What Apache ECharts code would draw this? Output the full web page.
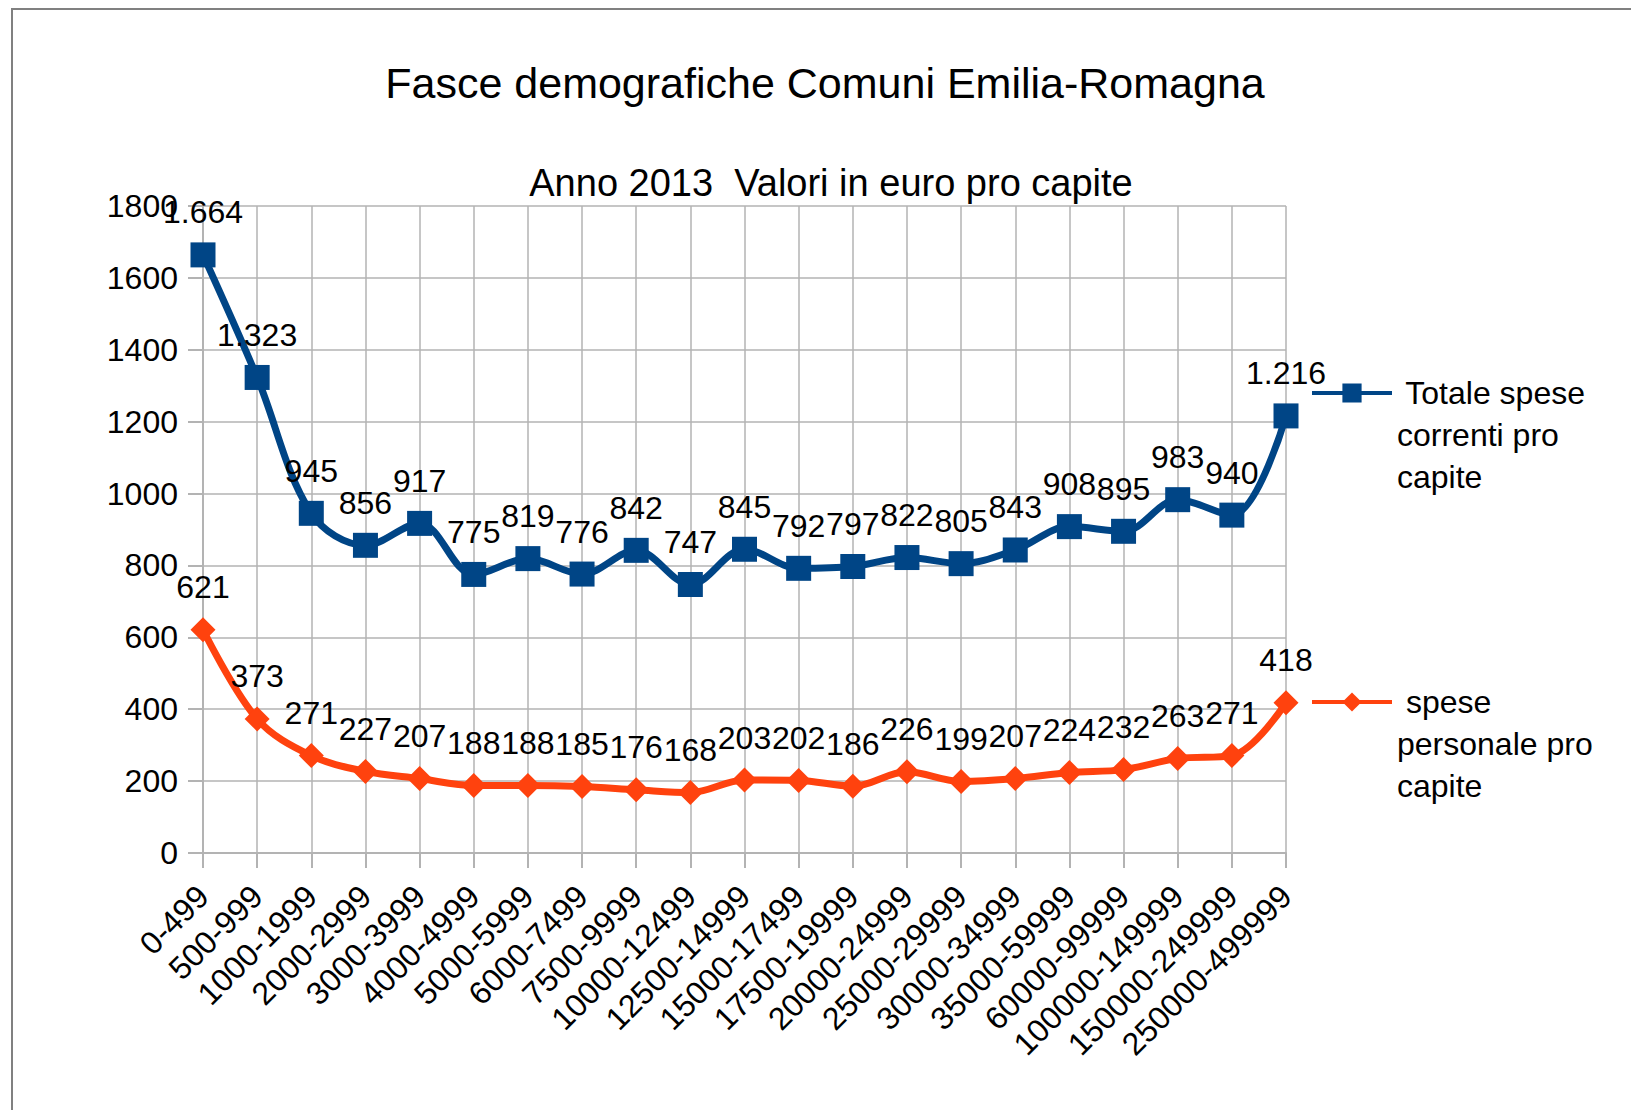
<!DOCTYPE html>
<html>
<head>
<meta charset="utf-8">
<title>Fasce demografiche Comuni Emilia-Romagna</title>
<script src="https://cdn.jsdelivr.net/npm/echarts@6/dist/echarts.min.js"></script>
<style>
  html, body { margin: 0; padding: 0; background: #fff; }
  #chart { width: 1631px; height: 1110px; }
</style>
</head>
<body>
<div id="chart"></div>
<script>
const categories = [
  '0-499', '500-999', '1000-1999', '2000-2999', '3000-3999', '4000-4999',
  '5000-5999', '6000-7499', '7500-9999', '10000-12499', '12500-14999',
  '15000-17499', '17500-19999', '20000-24999', '25000-29999', '30000-34999',
  '35000-59999', '60000-99999', '100000-149999', '150000-249999', '250000-499999'
];
const totaleSpese = [1664, 1323, 945, 856, 917, 775, 819, 776, 842, 747, 845,
  792, 797, 822, 805, 843, 908, 895, 983, 940, 1216];
const spesePersonale = [621, 373, 271, 227, 207, 188, 188, 185, 176, 168, 203,
  202, 186, 226, 199, 207, 224, 232, 263, 271, 418];
const yTicks = { min: 0, max: 1800, step: 200 };

const FONT = 'Liberation Sans';
const GRID = '#b3b3b3';

// numeri all'italiana: 1.664
function fmt(v) {
  return String(v).replace(/\B(?=(\d{3})+(?!\d))/g, '.');
}

const label = {
  show: true,
  position: 'top',
  distance: 14,
  color: '#000',
  fontFamily: FONT,
  fontSize: 32,
  formatter: p => fmt(p.value)
};

const legendText = {
  color: '#000',
  fontFamily: FONT,
  fontSize: 32,
  lineHeight: 42
};

// two blank lines first, so the first real line sits next to the icon
const legendLines = {
  'Totale spese correnti pro capite': [' Totale spese', 'correnti pro', 'capite'],
  'spese personale pro capite': [' spese', 'personale pro', 'capite']
};

const option = {
  animation: false,
  backgroundColor: '#fff',
  title: [
    {
      text: 'Fasce demografiche Comuni Emilia-Romagna',
      left: 825, top: 61, padding: 0,
      textAlign: 'center', textVerticalAlign: 'top',
      textStyle: { fontFamily: FONT, fontSize: 43, fontWeight: 'normal', color: '#000' }
    },
    {
      text: 'Anno 2013  Valori in euro pro capite',
      left: 831, top: 164, padding: 0,
      textAlign: 'center', textVerticalAlign: 'top',
      textStyle: { fontFamily: FONT, fontSize: 38, fontWeight: 'normal', color: '#000' }
    }
  ],
  legend: [
    {
      data: ['Totale spese correnti pro capite'],
      left: 1310, top: 288, padding: 0,
      itemWidth: 80, itemHeight: 24, itemGap: 0,
      lineStyle: { width: 4 },
      textStyle: legendText,
      formatter: n => [' ', ' '].concat(legendLines[n]).join('\n')
    },
    {
      data: ['spese personale pro capite'],
      left: 1310, top: 597, padding: 0,
      itemWidth: 80, itemHeight: 24, itemGap: 0,
      lineStyle: { width: 4 },
      textStyle: legendText,
      formatter: n => [' ', ' '].concat(legendLines[n]).join('\n')
    }
  ],
  grid: { left: 203, right: 345, top: 206, bottom: 257, containLabel: false },
  xAxis: {
    type: 'category',
    data: categories,
    boundaryGap: false,
    axisLine: { lineStyle: { color: GRID, width: 2 } },
    axisTick: { show: true, length: 15, lineStyle: { color: GRID, width: 2 } },
    splitLine: { show: true, lineStyle: { color: GRID, width: 1.5 } },
    axisLabel: {
      interval: 0, rotate: 45, margin: 38,
      color: '#000', fontFamily: FONT, fontSize: 32
    }
  },
  yAxis: {
    type: 'value',
    min: yTicks.min, max: yTicks.max, interval: yTicks.step,
    axisLine: { show: true, lineStyle: { color: GRID, width: 2 } },
    axisTick: { show: true, length: 15, lineStyle: { color: GRID, width: 2 } },
    splitLine: { show: true, lineStyle: { color: GRID, width: 1.5 } },
    axisLabel: {
      margin: 25, color: '#000', fontFamily: FONT, fontSize: 32,
      formatter: v => String(v)
    }
  },
  series: [
    {
      name: 'Totale spese correnti pro capite',
      type: 'line',
      data: totaleSpese,
      smooth: 0.35,
      symbol: 'rect',
      symbolSize: 25,
      color: '#004586',
      lineStyle: { width: 7, color: '#004586' },
      itemStyle: { color: '#004586' },
      label: label
    },
    {
      name: 'spese personale pro capite',
      type: 'line',
      data: spesePersonale,
      smooth: 0.35,
      symbol: 'diamond',
      symbolSize: 25,
      color: '#ff420e',
      lineStyle: { width: 7, color: '#ff420e' },
      itemStyle: { color: '#ff420e' },
      label: label
    }
  ],
  graphic: [
    {
      type: 'rect',
      shape: { x: 12, y: 9, width: 1700, height: 1200 },
      style: { fill: 'none', stroke: '#808080', lineWidth: 2 },
      silent: true
    }
  ]
};

const chart = echarts.init(document.getElementById('chart'), null, { renderer: 'svg' });
chart.setOption(option);
</script>
</body>
</html>
